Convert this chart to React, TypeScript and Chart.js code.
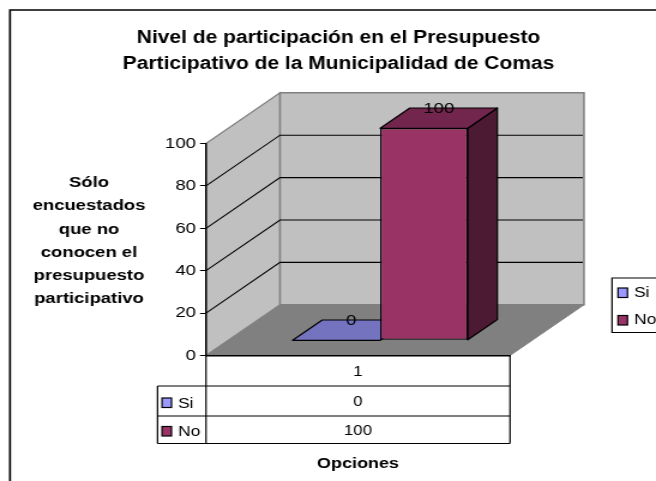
import React, { useEffect, useRef } from "react";
import { Chart, registerables } from "chart.js";

Chart.register(...registerables);

const categories = ["1"];
const seriesNames = ["Si", "No"];
const siValues = [0];
const noValues = [100];
const titleLines = ["Nivel de participación en el Presupuesto", "Participativo de la Municipalidad de Comas"];
const yTitleLines = ["Sólo", "encuestados", "que no", "conocen el", "presupuesto", "participativo"];
const xTitle = "Opciones";
const frontColors = ["#9999FF", "#993366"];
const topColors = ["#7373BF", "#73264D"];
const sideColors = ["#4D4D80", "#4D1A33"];

const FONT = '"Liberation Sans", Arial, sans-serif';
// the reference's text is horizontally stretched: the canvas is drawn narrower and shown at 656px
const CANVAS_W = 547;
const S = 656 / CANVAS_W;
const px = (v: number) => v / S;
const DX = px(74);
const DY = -50.7;
const GAP = 0.3;
const BAR_DEPTH = 0.4;

const threeD = {
  id: "threeD",
  beforeDraw(chart: any) {
    const { ctx, chartArea: a } = chart;
    const y = chart.scales.y;
    ctx.save();
    ctx.fillStyle = "#fff";
    ctx.fillRect(0, 0, chart.width, chart.height);
    ctx.strokeStyle = "#000";
    ctx.lineWidth = 1.7;
    ctx.beginPath();
    ctx.moveTo(px(10), chart.height);
    ctx.lineTo(px(10), 10);
    ctx.lineTo(chart.width, 10);
    ctx.stroke();

    const poly = (pts: number[][], fill: string, stroke: string, lw = 1) => {
      ctx.beginPath();
      pts.forEach((p, i) => (i ? ctx.lineTo(p[0], p[1]) : ctx.moveTo(p[0], p[1])));
      ctx.closePath();
      ctx.fillStyle = fill;
      ctx.fill();
      ctx.strokeStyle = stroke;
      ctx.lineWidth = lw;
      ctx.stroke();
    };
    poly([[a.left, a.bottom], [a.right, a.bottom], [a.right + DX, a.bottom + DY], [a.left + DX, a.bottom + DY]], "#808080", "#808080");
    poly([[a.left, a.top], [a.left + DX, a.top + DY], [a.left + DX, a.bottom + DY], [a.left, a.bottom]], "#C0C0C0", "#808080", 1.2);
    poly([[a.left + DX, a.top + DY], [a.right + DX, a.top + DY], [a.right + DX, a.bottom + DY], [a.left + DX, a.bottom + DY]], "#C0C0C0", "#808080", 1.5);

    ctx.strokeStyle = "#000";
    ctx.lineWidth = 1.1;
    y.ticks.forEach((t: any) => {
      if (t.value === y.min || t.value === y.max) return;
      const py = y.getPixelForValue(t.value);
      ctx.beginPath();
      ctx.moveTo(a.left, py);
      ctx.lineTo(a.left + DX, py + DY);
      ctx.lineTo(a.right + DX - 1, py + DY);
      ctx.stroke();
    });
    ctx.restore();
  },
  beforeDatasetsDraw(chart: any) {
    const { ctx } = chart;
    const ox = DX * GAP;
    const oy = DY * GAP;
    const bx = DX * BAR_DEPTH;
    const by = DY * BAR_DEPTH;
    const labels: any[] = [];
    chart.data.datasets.forEach((ds: any, i: number) => {
      chart.getDatasetMeta(i).data.forEach((el: any, j: number) => {
        const { x, y, width } = el.getProps(["x", "y", "width"], true);
        const base = el.getProps(["base"], true).base;
        const l = x - width / 2 + ox;
        const r = x + width / 2 + ox;
        const t = y + oy;
        const b = base + oy;
        ctx.save();
        ctx.strokeStyle = "#000";
        ctx.lineWidth = 1.2;
        ctx.lineJoin = "round";
        const face = (pts: number[][], fill: string) => {
          ctx.beginPath();
          pts.forEach((p, k) => (k ? ctx.lineTo(p[0], p[1]) : ctx.moveTo(p[0], p[1])));
          ctx.closePath();
          ctx.fillStyle = fill;
          ctx.fill();
          ctx.stroke();
        };
        if (b - t > 0.5) face([[r, t], [r + bx, t + by], [r + bx, b + by], [r, b]], sideColors[i]);
        face([[l, t], [r, t], [r + bx, t + by], [l + bx, t + by]], topColors[i]);
        ctx.translate(ox, oy);
        el.draw(ctx);
        ctx.restore();
        labels.push({ text: String(ds.data[j]), x: x + ox + bx / 2, y: t + by + 1 });
      });
    });
    ctx.save();
    ctx.fillStyle = "#000";
    ctx.font = `15.5px ${FONT}`;
    ctx.textAlign = "center";
    ctx.textBaseline = "middle";
    labels.forEach((l) => ctx.fillText(l.text, l.x, l.y));
    ctx.restore();
    return false;
  },
  afterDraw(chart: any) {
    const { ctx, chartArea: a } = chart;
    ctx.save();
    ctx.textBaseline = "middle";
    ctx.fillStyle = "#000";
    ctx.strokeStyle = "#000";
    ctx.lineWidth = 1.2;

    // data table
    const tableLeft = px(157.5);
    const rows = [386, 416, 443.5];
    ctx.beginPath();
    rows.forEach((ry) => {
      ctx.moveTo(tableLeft, ry);
      ctx.lineTo(a.right, ry);
    });
    ctx.moveTo(tableLeft, rows[0]);
    ctx.lineTo(tableLeft, rows[2]);
    ctx.moveTo(a.right, a.bottom);
    ctx.lineTo(a.right, rows[2]);
    ctx.moveTo(a.left, a.bottom);
    ctx.lineTo(a.left, rows[2]);
    ctx.stroke();

    const swatch = (x: number, y: number, i: number) => {
      ctx.fillStyle = frontColors[i];
      ctx.fillRect(px(x), y, px(9.5), 9.5);
      ctx.strokeRect(px(x), y, px(9.5), 9.5);
      ctx.fillStyle = "#000";
    };
    const tableValues = [siValues, noValues];
    const rowY = [402.5, 431];
    const cx = (a.left + a.right) / 2;
    seriesNames.forEach((n, i) => {
      swatch(162, rowY[i] - 4.5, i);
      ctx.textAlign = "left";
      ctx.font = `14.5px ${FONT}`;
      ctx.fillText(n, px(178), rowY[i] + 1);
      ctx.textAlign = "center";
      ctx.font = `14px ${FONT}`;
      ctx.fillText(String(tableValues[i][0]), cx, rowY[i]);
    });

    // legend
    ctx.beginPath();
    ctx.moveTo(chart.width + 2, 278);
    ctx.lineTo(px(612), 278);
    ctx.lineTo(px(612), 332.5);
    ctx.lineTo(chart.width + 2, 332.5);
    ctx.stroke();
    const legY = [292.5, 320];
    ctx.font = `14.5px ${FONT}`;
    seriesNames.forEach((n, i) => {
      swatch(618, legY[i] - 4.5, i);
      ctx.textAlign = "left";
      ctx.fillText(n, px(634), legY[i]);
    });

    // y axis title
    ctx.font = `bold 15.4px ${FONT}`;
    ctx.textAlign = "center";
    yTitleLines.forEach((line, i) => ctx.fillText(line, px(89), 183 + i * 23.2));
    ctx.restore();
  },
};

export default function App() {
  const ref = useRef<HTMLCanvasElement>(null);
  useEffect(() => {
    document.body.style.margin = "0";
    const chart = new Chart(ref.current as HTMLCanvasElement, {
      type: "bar",
      data: {
        labels: categories,
        datasets: [
          { label: seriesNames[0], data: siValues, backgroundColor: frontColors[0], borderColor: "#000", borderWidth: 1.2, borderSkipped: false },
          { label: seriesNames[1], data: noValues, backgroundColor: frontColors[1], borderColor: "#000", borderWidth: 1.2, borderSkipped: false },
        ],
      },
      options: {
        responsive: false,
        animation: false,
        devicePixelRatio: 1,
        layout: { padding: { left: px(21), right: 0, top: 0, bottom: 0 } },
        datasets: { bar: { categoryPercentage: 0.576, barPercentage: 1 } },
        plugins: {
          legend: { display: false },
          tooltip: { enabled: false },
          title: {
            display: true,
            text: titleLines,
            color: "#000",
            font: { family: FONT, size: 17.5, weight: "bold", lineHeight: 26 / 17.5 },
            padding: { top: 25, bottom: 66.5 },
          },
        },
        scales: {
          x: {
            afterFit: (s: any) => { s.height = 125.5; },
            ticks: { color: "#000", font: { family: FONT, size: 14 }, padding: 0 },
            grid: { display: false },
            border: { color: "#000", width: 1.5 },
            offset: true,
            title: { display: true, text: xTitle, color: "#000", font: { family: FONT, size: 15, weight: "bold" }, padding: { top: 0, bottom: 8 } },
          },
          y: {
            min: 0,
            max: 100,
            afterFit: (s: any) => { s.width = px(206 - 21); },
            ticks: { stepSize: 20, color: "#000", font: { family: FONT, size: 15.5 }, padding: px(4) },
            grid: { drawOnChartArea: false, color: "#000", tickLength: px(6) },
            border: { color: "#000", width: 1.5 },
          },
          spacer: {
            position: "right",
            afterFit: (s: any) => { s.width = px(656 - 510); },
            ticks: { display: false },
            grid: { display: false },
            border: { display: false },
          },
        },
      } as any,
      plugins: [threeD],
    });
    return () => chart.destroy();
  }, []);
  return <canvas ref={ref} width={CANVAS_W} height={481} style={{ display: "block", width: 656, height: 481 }} />;
}
